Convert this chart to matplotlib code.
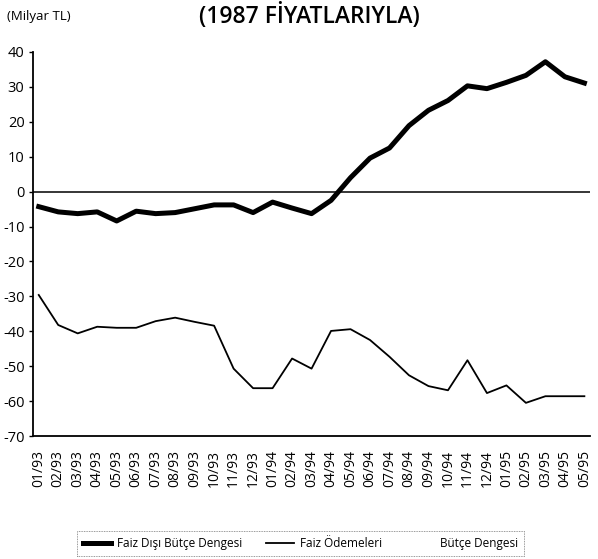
import matplotlib
matplotlib.use("Agg")
import matplotlib.pyplot as plt
from matplotlib.lines import Line2D

plt.rcParams["font.family"] = ["Open Sans", "DejaVu Sans"]

# aylar 01/93 - 05/95
months = ["01/93", "02/93", "03/93", "04/93", "05/93", "06/93", "07/93", "08/93",
          "09/93", "10/93", "11/93", "12/93", "01/94", "02/94", "03/94", "04/94",
          "05/94", "06/94", "07/94", "08/94", "09/94", "10/94", "11/94", "12/94",
          "01/95", "02/95", "03/95", "04/95", "05/95"]

# Faiz Dışı Bütçe Dengesi (milyar TL, 1987 fiyatlarıyla)
primary_balance = [-4.3, -5.8, -6.3, -5.8, -8.4, -5.6, -6.3, -6.0, -4.9, -3.8,
                   -3.8, -6.0, -3.0, -4.7, -6.3, -2.5, 4.0, 9.6, 12.5, 18.9,
                   23.3, 26.1, 30.3, 29.5, 31.3, 33.3, 37.2, 32.9, 31.1]

# Faiz Ödemeleri
interest = [-29.6, -38.2, -40.6, -38.7, -39.0, -39.0, -37.1, -36.1, -37.3, -38.4,
            -50.7, -56.3, -56.3, -47.8, -50.7, -39.9, -39.4, -42.5, -47.3, -52.6,
            -55.7, -56.9, -48.3, -57.7, -55.5, -60.5, -58.6, -58.6, -58.6]

y_ticks = [40, 30, 20, 10, 0, -10, -20, -30, -40, -50, -60, -70]


def main() -> None:
    fig = plt.figure(figsize=(5.98, 5.59), dpi=100)
    ax = fig.add_axes([0.055, 0.22, 0.932, 0.687])
    x = list(range(len(months)))

    ax.axhline(0, color="black", linewidth=1.1, zorder=1)
    ax.plot(x, primary_balance, color="black", linewidth=3.6,
            solid_joinstyle="round", label="Faiz Dışı Bütçe Dengesi", zorder=3)
    ax.plot(x, interest, color="black", linewidth=1.3,
            label="Faiz Ödemeleri", zorder=3)

    ax.set_xlim(-0.3, len(months) - 0.7)
    ax.set_ylim(-70, 40)
    ax.set_yticks(y_ticks)
    ax.set_yticklabels([str(v) for v in y_ticks], fontsize=10.5, fontweight="medium")
    ax.set_xticks(x)
    ax.set_xticklabels(months, rotation=90, fontsize=10, fontweight="medium")
    ax.tick_params(axis="x", length=0, pad=10)
    ax.tick_params(axis="y", length=3, width=1, pad=3)
    for side in ("top", "right"):
        ax.spines[side].set_visible(False)
    ax.spines["left"].set_linewidth(1.3)
    ax.spines["bottom"].set_linewidth(1.3)

    handles = [
        Line2D([], [], color="black", linewidth=3.6),
        Line2D([], [], color="black", linewidth=1.3),
        Line2D([], [], color="white", linewidth=1.0),
    ]
    labels = ["Faiz Dışı Bütçe Dengesi", "Faiz Ödemeleri", "Bütçe Dengesi"]
    leg = fig.legend(handles, labels, loc="center", bbox_to_anchor=(0.502, 0.028),
                     ncol=3, fontsize=8.5, frameon=True, fancybox=False,
                     handlelength=2.4, handletextpad=0.5, columnspacing=2.0,
                     borderpad=0.5)
    leg.get_frame().set_edgecolor("#555555")
    leg.get_frame().set_linewidth(0.6)
    leg.get_frame().set_linestyle((0, (1, 1)))

    fig.text(0.012, 0.97, "(Milyar TL)", fontsize=9.5, va="center", ha="left")
    fig.text(0.517, 0.972, "(1987 FİYATLARIYLA)", fontsize=16.5, fontweight="semibold",
             va="center", ha="center")

    fig.savefig("out.png", dpi=100)
    plt.close(fig)


if __name__ == "__main__":
    main()
